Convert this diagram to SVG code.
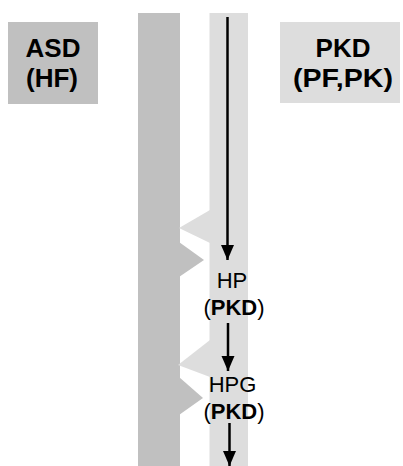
<svg xmlns="http://www.w3.org/2000/svg" width="403" height="466" viewBox="0 0 403 466">
<style>
.dark{fill:#c0c0c0}
.light{fill:#dddddd}
.t{font-family:"Liberation Sans",Arial,sans-serif;fill:#000;text-anchor:middle}
.b{font-weight:bold}
.big{font-size:26px;font-weight:bold}
.sm{font-size:22px}
.conn{stroke:#000;stroke-width:2.5;fill:none;marker-end:url(#ah)}
</style>
<defs>
<marker id="ah" markerUnits="userSpaceOnUse" markerWidth="15" markerHeight="14" refX="15" refY="6.5" orient="auto">
<path d="M0,0 L15,6.5 L0,13 z" fill="#000"/>
</marker>
</defs>
<rect width="403" height="466" fill="#fff"/>
<g id="columns">
<rect class="dark" x="138" y="13" width="42" height="453"/>
<rect class="light" x="209.5" y="13" width="38.5" height="453"/>
<polygon class="light" points="210,210 179,228 210,243"/>
<polygon class="dark" points="179,242 204,260 179,277"/>
<polygon class="light" points="210,340 178,365 210,377"/>
<polygon class="dark" points="179,377 203,398 179,415"/>
</g>
<g id="asd">
<rect class="dark" x="8" y="22" width="90" height="82"/>
<text class="t big" x="53" y="57">ASD</text>
<text class="t big" x="52" y="87">(HF)</text>
</g>
<g id="pkd">
<rect class="light" x="280" y="22" width="120" height="81"/>
<text class="t big" x="343" y="57">PKD</text>
<text class="t big" x="343" y="87" textLength="100" lengthAdjust="spacingAndGlyphs">(PF,PK)</text>
</g>
<g id="hp">
<text class="t sm" x="232" y="288">HP</text>
<text class="t sm" x="234" y="315">(<tspan class="b">PKD</tspan>)</text>
</g>
<g id="hpg">
<text class="t sm" x="232.5" y="392">HPG</text>
<text class="t sm" x="234" y="419">(<tspan class="b">PKD</tspan>)</text>
</g>
<g id="connectors">
<line class="conn" x1="227.5" y1="17" x2="227.5" y2="260"/>
<line class="conn" x1="228" y1="323" x2="228" y2="371"/>
<line class="conn" x1="229.5" y1="423" x2="229.5" y2="466"/>
</g>
</svg>
